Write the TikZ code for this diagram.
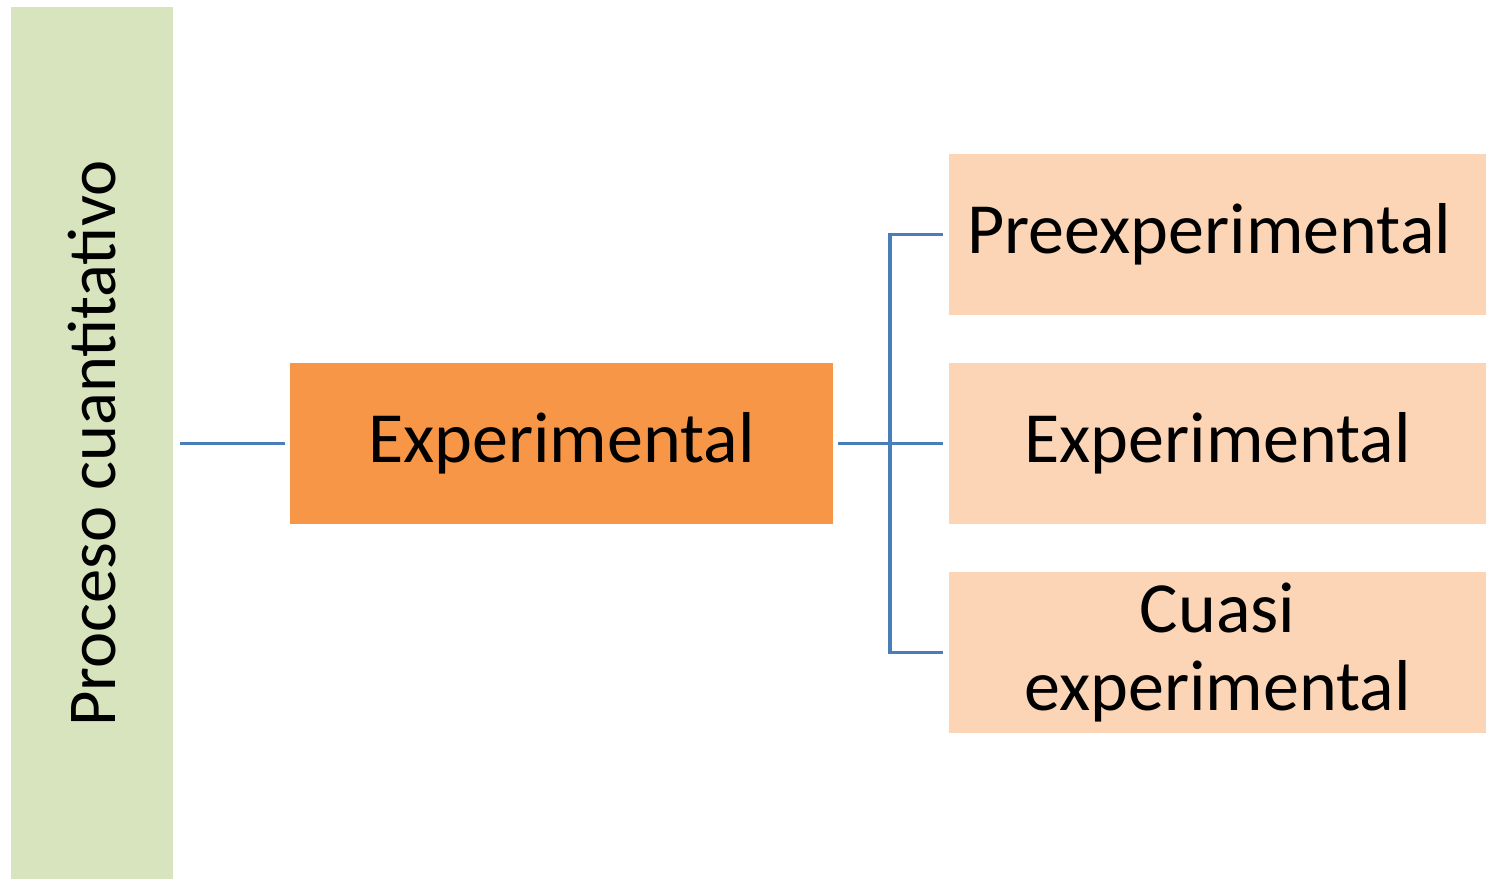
\documentclass[tikz,border=0pt]{standalone}
\usepackage{fontspec}
\setmainfont{Carlito}
\usetikzlibrary{positioning}

\definecolor{stagegreen}{HTML}{D7E4BD}
\definecolor{mainorange}{HTML}{F79646}
\definecolor{lightorange}{HTML}{FBD5B5}
\definecolor{linkblue}{HTML}{4A7EBB}

\begin{document}
\begin{tikzpicture}[node distance=4.18cm,
	box/.style={rectangle,minimum width=10.76cm,minimum height=3.22cm,inner sep=0pt,
		font=\fontsize{41}{44}\selectfont,align=center},
	link/.style={draw=linkblue,line width=0.075cm,shorten >=0.1cm}]

\useasboundingbox (0,0) rectangle (29.72,-17.58);

\node[box,fill=mainorange,minimum width=10.86cm] (exp) at (11.23,-8.87) {Experimental};
 \node[box,fill=stagegreen,minimum width=3.24cm,minimum height=17.44cm,font=\fontsize{39}{42}\selectfont] (proc) [left=2.32cm of exp] {\rotatebox{90}{Proceso cuantitativo}};

	\node[box,fill=lightorange] (exp2) [right=2.3cm of exp] {Experimental};
	\node[box,fill=lightorange] (pre) [above of=exp2] {Preexperimental\hspace*{0.34cm}};
\node[box,fill=lightorange] (cuasi) [below of=exp2] {Cuasi\\experimental};

\coordinate[right=1.14cm of exp.east] (fork);

	\path[link] (proc) edge[shorten <=0.12cm] (exp);
	\draw[link,shorten >=0pt,shorten <=0.1cm] (exp.east) -- (fork);
	\draw[link] (fork) -- (exp2);
	\draw[link] (fork) |- (pre);
	\draw[link] (fork) |- (cuasi);

\end{tikzpicture}
\end{document}
